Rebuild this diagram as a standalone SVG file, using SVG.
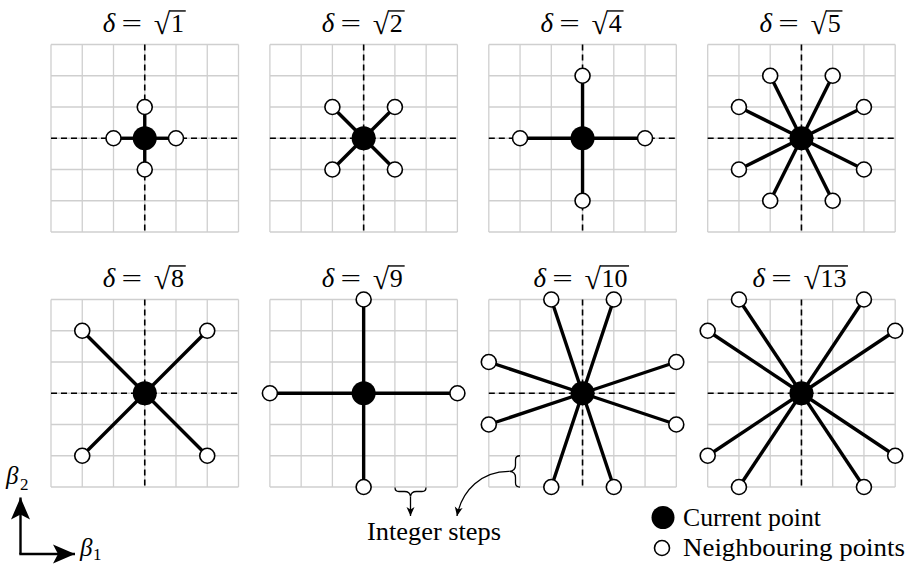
<svg xmlns="http://www.w3.org/2000/svg" width="910" height="565" viewBox="0 0 910 565">
<style>
.gridl{fill:none;stroke:#cfcfcf;stroke-width:1.3}
.axis{fill:none;stroke:#000;stroke-width:1.6;stroke-dasharray:6 4}
.edge{stroke:#000;stroke-width:3.4;stroke-linecap:butt}
.cur{fill:#000}
.nb{fill:#fff;stroke:#000;stroke-width:1.6}
.t{font-family:"Liberation Serif","DejaVu Serif",serif;font-size:26px;fill:#000}
.it{font-style:italic}
.d{font-size:27px}
.rad{font-family:"Liberation Serif","DejaVu Serif",serif;font-size:30px;fill:#000}
.vin{stroke:#000;stroke-width:1.4}
.lbl{font-family:"Liberation Serif","DejaVu Serif",serif;font-size:25px;fill:#000}
.thin{fill:none;stroke:#000;stroke-width:1.3}
.ax{fill:none;stroke:#000;stroke-width:2.4}
</style>
<defs>
<g id="grid">
<path class="gridl" d="M-93.75,-93.75V93.75M-62.5,-93.75V93.75M-31.25,-93.75V93.75M0,-93.75V93.75M31.25,-93.75V93.75M62.5,-93.75V93.75M93.75,-93.75V93.75M-93.75,-93.75H93.75M-93.75,-62.5H93.75M-93.75,-31.25H93.75M-93.75,0H93.75M-93.75,31.25H93.75M-93.75,62.5H93.75M-93.75,93.75H93.75"/>
<path class="axis" d="M0,-93.75V93.75M-93.75,0H93.75"/>
</g>
<marker id="ah" viewBox="-10 -5 11 10" markerWidth="11" markerHeight="10" refX="0" refY="0" orient="auto" markerUnits="userSpaceOnUse" overflow="visible"><path d="M0,0L-9,-4L-6.5,0L-9,4Z" fill="#000"/></marker>
<marker id="big" viewBox="-24 -11 25 22" markerWidth="25" markerHeight="22" refX="0" refY="0" orient="auto" markerUnits="userSpaceOnUse" overflow="visible"><path d="M0,0L-22,-9.5L-17,0L-22,9.5Z" fill="#000"/></marker>
</defs>

<!-- panels: grid + title -->
<g id="panel-sqrt1" transform="translate(144.75,138.25)">
<use href="#grid"/>
<text class="t it d" x="-35.7" y="-106.6" text-anchor="middle">δ</text>
<text class="t" transform="translate(-13,-106.6) scale(1.4,1)" text-anchor="middle">=</text>
<text class="rad" x="9" y="-104">√</text>
<line class="vin" x1="24.6" y1="-127.3" x2="41" y2="-127.3"/>
<text class="t" x="32.7" y="-106.6" text-anchor="middle">1</text>
</g>
<g id="panel-sqrt2" transform="translate(363.65,138.25)">
<use href="#grid"/>
<text class="t it d" x="-35.7" y="-106.6" text-anchor="middle">δ</text>
<text class="t" transform="translate(-13,-106.6) scale(1.4,1)" text-anchor="middle">=</text>
<text class="rad" x="9" y="-104">√</text>
<line class="vin" x1="24.6" y1="-127.3" x2="41" y2="-127.3"/>
<text class="t" x="32.7" y="-106.6" text-anchor="middle">2</text>
</g>
<g id="panel-sqrt4" transform="translate(582.55,138.25)">
<use href="#grid"/>
<text class="t it d" x="-35.7" y="-106.6" text-anchor="middle">δ</text>
<text class="t" transform="translate(-13,-106.6) scale(1.4,1)" text-anchor="middle">=</text>
<text class="rad" x="9" y="-104">√</text>
<line class="vin" x1="24.6" y1="-127.3" x2="41" y2="-127.3"/>
<text class="t" x="32.7" y="-106.6" text-anchor="middle">4</text>
</g>
<g id="panel-sqrt5" transform="translate(801.45,138.25)">
<use href="#grid"/>
<text class="t it d" x="-35.7" y="-106.6" text-anchor="middle">δ</text>
<text class="t" transform="translate(-13,-106.6) scale(1.4,1)" text-anchor="middle">=</text>
<text class="rad" x="9" y="-104">√</text>
<line class="vin" x1="24.6" y1="-127.3" x2="41" y2="-127.3"/>
<text class="t" x="32.7" y="-106.6" text-anchor="middle">5</text>
</g>
<g id="panel-sqrt8" transform="translate(144.75,393.25)">
<use href="#grid"/>
<text class="t it d" x="-35.7" y="-106.6" text-anchor="middle">δ</text>
<text class="t" transform="translate(-13,-106.6) scale(1.4,1)" text-anchor="middle">=</text>
<text class="rad" x="9" y="-104">√</text>
<line class="vin" x1="24.6" y1="-127.3" x2="41" y2="-127.3"/>
<text class="t" x="32.7" y="-106.6" text-anchor="middle">8</text>
</g>
<g id="panel-sqrt9" transform="translate(363.65,393.25)">
<use href="#grid"/>
<text class="t it d" x="-35.7" y="-106.6" text-anchor="middle">δ</text>
<text class="t" transform="translate(-13,-106.6) scale(1.4,1)" text-anchor="middle">=</text>
<text class="rad" x="9" y="-104">√</text>
<line class="vin" x1="24.6" y1="-127.3" x2="41" y2="-127.3"/>
<text class="t" x="32.7" y="-106.6" text-anchor="middle">9</text>
</g>
<g id="panel-sqrt10" transform="translate(582.55,393.25)">
<use href="#grid"/>
<text class="t it d" x="-42.7" y="-106.6" text-anchor="middle">δ</text>
<text class="t" transform="translate(-20,-106.6) scale(1.4,1)" text-anchor="middle">=</text>
<text class="rad" x="2" y="-104">√</text>
<line class="vin" x1="17.6" y1="-127.3" x2="46.5" y2="-127.3"/>
<text class="t" x="32" y="-106.6" text-anchor="middle">10</text>
</g>
<g id="panel-sqrt13" transform="translate(801.45,393.25)">
<use href="#grid"/>
<text class="t it d" x="-42.7" y="-106.6" text-anchor="middle">δ</text>
<text class="t" transform="translate(-20,-106.6) scale(1.4,1)" text-anchor="middle">=</text>
<text class="rad" x="2" y="-104">√</text>
<line class="vin" x1="17.6" y1="-127.3" x2="46.5" y2="-127.3"/>
<text class="t" x="32" y="-106.6" text-anchor="middle">13</text>
</g>

<!-- connectors -->
<g id="connectors">
<g transform="translate(144.75,138.25)">
<line class="edge" x1="0" y1="0" x2="31.25" y2="0"/><line class="edge" x1="0" y1="0" x2="-31.25" y2="0"/><line class="edge" x1="0" y1="0" x2="0" y2="31.25"/><line class="edge" x1="0" y1="0" x2="0" y2="-31.25"/>
</g>
<g transform="translate(363.65,138.25)">
<line class="edge" x1="0" y1="0" x2="31.25" y2="31.25"/><line class="edge" x1="0" y1="0" x2="-31.25" y2="31.25"/><line class="edge" x1="0" y1="0" x2="31.25" y2="-31.25"/><line class="edge" x1="0" y1="0" x2="-31.25" y2="-31.25"/>
</g>
<g transform="translate(582.55,138.25)">
<line class="edge" x1="0" y1="0" x2="62.5" y2="0"/><line class="edge" x1="0" y1="0" x2="-62.5" y2="0"/><line class="edge" x1="0" y1="0" x2="0" y2="62.5"/><line class="edge" x1="0" y1="0" x2="0" y2="-62.5"/>
</g>
<g transform="translate(801.45,138.25)">
<line class="edge" x1="0" y1="0" x2="31.25" y2="62.5"/><line class="edge" x1="0" y1="0" x2="-31.25" y2="62.5"/><line class="edge" x1="0" y1="0" x2="31.25" y2="-62.5"/><line class="edge" x1="0" y1="0" x2="-31.25" y2="-62.5"/>
<line class="edge" x1="0" y1="0" x2="62.5" y2="31.25"/><line class="edge" x1="0" y1="0" x2="-62.5" y2="31.25"/><line class="edge" x1="0" y1="0" x2="62.5" y2="-31.25"/><line class="edge" x1="0" y1="0" x2="-62.5" y2="-31.25"/>
</g>
<g transform="translate(144.75,393.25)">
<line class="edge" x1="0" y1="0" x2="62.5" y2="62.5"/><line class="edge" x1="0" y1="0" x2="-62.5" y2="62.5"/><line class="edge" x1="0" y1="0" x2="62.5" y2="-62.5"/><line class="edge" x1="0" y1="0" x2="-62.5" y2="-62.5"/>
</g>
<g transform="translate(363.65,393.25)">
<line class="edge" x1="0" y1="0" x2="93.75" y2="0"/><line class="edge" x1="0" y1="0" x2="-93.75" y2="0"/><line class="edge" x1="0" y1="0" x2="0" y2="93.75"/><line class="edge" x1="0" y1="0" x2="0" y2="-93.75"/>
</g>
<g transform="translate(582.55,393.25)">
<line class="edge" x1="0" y1="0" x2="31.25" y2="93.75"/><line class="edge" x1="0" y1="0" x2="-31.25" y2="93.75"/><line class="edge" x1="0" y1="0" x2="31.25" y2="-93.75"/><line class="edge" x1="0" y1="0" x2="-31.25" y2="-93.75"/>
<line class="edge" x1="0" y1="0" x2="93.75" y2="31.25"/><line class="edge" x1="0" y1="0" x2="-93.75" y2="31.25"/><line class="edge" x1="0" y1="0" x2="93.75" y2="-31.25"/><line class="edge" x1="0" y1="0" x2="-93.75" y2="-31.25"/>
</g>
<g transform="translate(801.45,393.25)">
<line class="edge" x1="0" y1="0" x2="62.5" y2="93.75"/><line class="edge" x1="0" y1="0" x2="-62.5" y2="93.75"/><line class="edge" x1="0" y1="0" x2="62.5" y2="-93.75"/><line class="edge" x1="0" y1="0" x2="-62.5" y2="-93.75"/>
<line class="edge" x1="0" y1="0" x2="93.75" y2="62.5"/><line class="edge" x1="0" y1="0" x2="-93.75" y2="62.5"/><line class="edge" x1="0" y1="0" x2="93.75" y2="-62.5"/><line class="edge" x1="0" y1="0" x2="-93.75" y2="-62.5"/>
</g>
</g>

<!-- points -->
<g id="points-sqrt1" transform="translate(144.75,138.25)">
<circle class="cur" r="12"/>
<circle class="nb" cx="31.25" cy="0" r="7.5"/><circle class="nb" cx="-31.25" cy="0" r="7.5"/><circle class="nb" cx="0" cy="31.25" r="7.5"/><circle class="nb" cx="0" cy="-31.25" r="7.5"/>
</g>
<g id="points-sqrt2" transform="translate(363.65,138.25)">
<circle class="cur" r="12"/>
<circle class="nb" cx="31.25" cy="31.25" r="7.5"/><circle class="nb" cx="-31.25" cy="31.25" r="7.5"/><circle class="nb" cx="31.25" cy="-31.25" r="7.5"/><circle class="nb" cx="-31.25" cy="-31.25" r="7.5"/>
</g>
<g id="points-sqrt4" transform="translate(582.55,138.25)">
<circle class="cur" r="12"/>
<circle class="nb" cx="62.5" cy="0" r="7.5"/><circle class="nb" cx="-62.5" cy="0" r="7.5"/><circle class="nb" cx="0" cy="62.5" r="7.5"/><circle class="nb" cx="0" cy="-62.5" r="7.5"/>
</g>
<g id="points-sqrt5" transform="translate(801.45,138.25)">
<circle class="cur" r="12"/>
<circle class="nb" cx="31.25" cy="62.5" r="7.5"/><circle class="nb" cx="-31.25" cy="62.5" r="7.5"/><circle class="nb" cx="31.25" cy="-62.5" r="7.5"/><circle class="nb" cx="-31.25" cy="-62.5" r="7.5"/>
<circle class="nb" cx="62.5" cy="31.25" r="7.5"/><circle class="nb" cx="-62.5" cy="31.25" r="7.5"/><circle class="nb" cx="62.5" cy="-31.25" r="7.5"/><circle class="nb" cx="-62.5" cy="-31.25" r="7.5"/>
</g>
<g id="points-sqrt8" transform="translate(144.75,393.25)">
<circle class="cur" r="12"/>
<circle class="nb" cx="62.5" cy="62.5" r="7.5"/><circle class="nb" cx="-62.5" cy="62.5" r="7.5"/><circle class="nb" cx="62.5" cy="-62.5" r="7.5"/><circle class="nb" cx="-62.5" cy="-62.5" r="7.5"/>
</g>
<g id="points-sqrt9" transform="translate(363.65,393.25)">
<circle class="cur" r="12"/>
<circle class="nb" cx="93.75" cy="0" r="7.5"/><circle class="nb" cx="-93.75" cy="0" r="7.5"/><circle class="nb" cx="0" cy="93.75" r="7.5"/><circle class="nb" cx="0" cy="-93.75" r="7.5"/>
</g>
<g id="points-sqrt10" transform="translate(582.55,393.25)">
<circle class="cur" r="12"/>
<circle class="nb" cx="31.25" cy="93.75" r="7.5"/><circle class="nb" cx="-31.25" cy="93.75" r="7.5"/><circle class="nb" cx="31.25" cy="-93.75" r="7.5"/><circle class="nb" cx="-31.25" cy="-93.75" r="7.5"/>
<circle class="nb" cx="93.75" cy="31.25" r="7.5"/><circle class="nb" cx="-93.75" cy="31.25" r="7.5"/><circle class="nb" cx="93.75" cy="-31.25" r="7.5"/><circle class="nb" cx="-93.75" cy="-31.25" r="7.5"/>
</g>
<g id="points-sqrt13" transform="translate(801.45,393.25)">
<circle class="cur" r="12"/>
<circle class="nb" cx="62.5" cy="93.75" r="7.5"/><circle class="nb" cx="-62.5" cy="93.75" r="7.5"/><circle class="nb" cx="62.5" cy="-93.75" r="7.5"/><circle class="nb" cx="-62.5" cy="-93.75" r="7.5"/>
<circle class="nb" cx="93.75" cy="62.5" r="7.5"/><circle class="nb" cx="-93.75" cy="62.5" r="7.5"/><circle class="nb" cx="93.75" cy="-62.5" r="7.5"/><circle class="nb" cx="-93.75" cy="-62.5" r="7.5"/>
</g>

<!-- integer steps annotation -->
<g id="annotation">
<path class="thin" d="M395,487.5q0,4 4,4h5.5q5.5,0 6,5q0.5,-5 6,-5h5.5q4,0 4,-4"/>
<path class="thin" d="M520,455.75q-4.5,0 -4.5,4v5.6q0,5.6 -6,6.05q6,0.45 6,6.05v5.6q0,4 4.5,4"/>
<path class="thin" d="M410.5,496.5V516" marker-end="url(#ah)"/>
<path class="thin" d="M509.5,471.4C482,471 462,490 457,516" marker-end="url(#ah)"/>
<text class="lbl" x="434" y="540" text-anchor="middle" textLength="134" lengthAdjust="spacingAndGlyphs">Integer steps</text>
</g>

<!-- legend -->
<g id="legend">
<circle class="cur" cx="663" cy="517.5" r="11.5"/>
<text class="lbl" x="683" y="526" textLength="138" lengthAdjust="spacingAndGlyphs">Current point</text>
<circle class="nb" cx="662" cy="548" r="7.5"/>
<text class="lbl" x="683" y="556" textLength="222" lengthAdjust="spacingAndGlyphs">Neighbouring points</text>
</g>

<!-- axes -->
<g id="axes">
<path class="ax" d="M20.5,554V497.5" marker-end="url(#big)"/>
<path class="ax" d="M19.3,554H75" marker-end="url(#big)"/>
<text class="t it" x="6" y="484" style="font-size:25px">β</text><text class="t" x="20" y="490" style="font-size:17px">2</text>
<text class="t it" x="80" y="556" style="font-size:25px">β</text><text class="t" x="93" y="560" style="font-size:17px">1</text>
</g>
</svg>
